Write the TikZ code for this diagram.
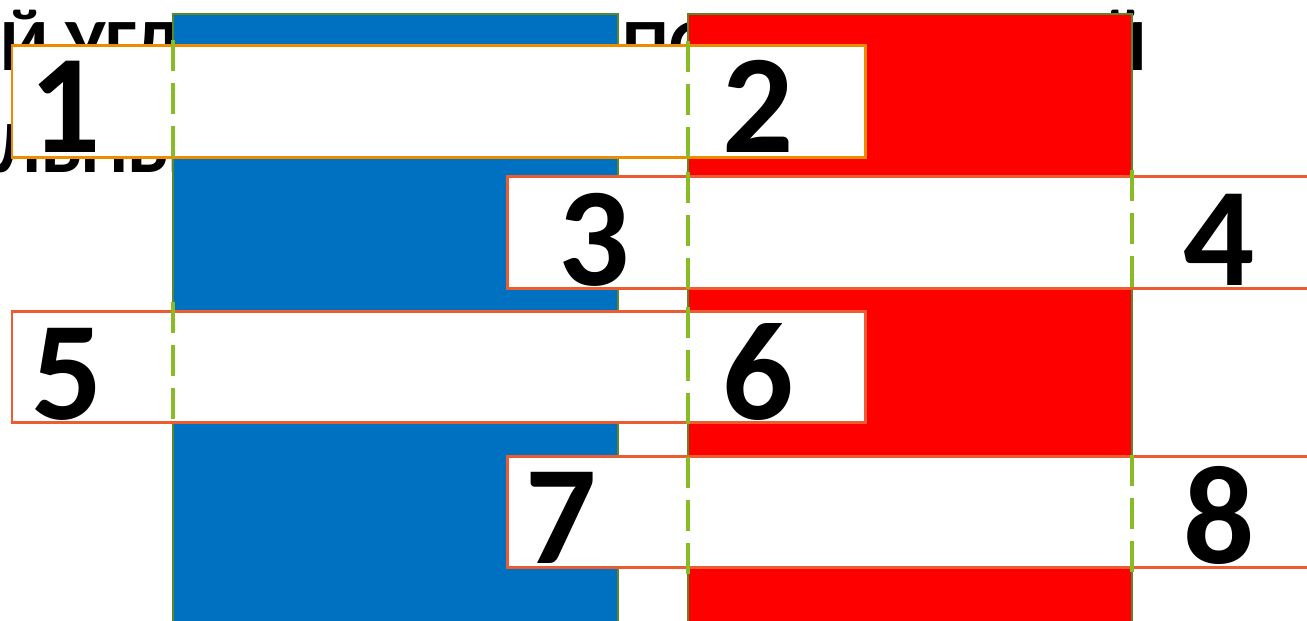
\documentclass[tikz,border=0pt]{standalone}
\usepackage{fontspec}
\setmainfont{Carlito}
\definecolor{colblue}{RGB}{0,112,192}
\definecolor{colred}{RGB}{255,0,0}
\definecolor{edgegreen}{RGB}{90,135,40}
\definecolor{cutgreen}{RGB}{135,188,36}
\definecolor{boxorange}{RGB}{238,140,0}
\definecolor{boxcoral}{RGB}{236,92,48}
\tikzset{
  column/.style={draw=edgegreen, line width=0.8pt},
  strip/.style={draw=#1, fill=white, line width=0.85pt},
  cut/.style={draw=cutgreen, line width=1.15pt, dash pattern=on 8.8pt off 3.4pt},
  digit/.style={inner sep=0pt, anchor=base, font=\fontsize{40}{40}\selectfont\bfseries},
  title/.style={inner sep=0pt, font=\fontsize{21}{21}\selectfont\bfseries}
}
\begin{document}
\begin{tikzpicture}[x=0.01cm, y=0.01cm]
	\useasboundingbox (0,0) rectangle (1307,-620);
	% title behind the columns
	\node[title, anchor=base west] (t1) at (0,-70) {Й УГЛ};
	\node[title, anchor=base west] (t2) at (622,-70) {ПО};
	\node[title, anchor=base east] (t3) at (1147,-70) {Й};
	\node[title, anchor=base west] (t4) at (-6,-172) {ЛЬНЫ};
	% columns
	\draw [column, fill=colblue] (173,-14) rectangle (618,-630);
	\draw [column, fill=colred] (688,-14) rectangle (1132,-630);
	% strips
	\draw [strip=boxorange] (12,-45) rectangle (865,-157);
	\draw [strip=boxcoral] (507,-176) rectangle (1330,-288);
	\draw [strip=boxcoral] (12,-311) rectangle (865,-422);
	\draw [strip=boxcoral] (507,-456) rectangle (1330,-567);
	% cuts
	\draw [cut] (173,-40) -- (173,-158);
	\draw [cut] (688,-41) -- (688,-163);
	\draw [cut] (688,-172) -- (688,-290);
	\draw [cut] (1132,-170) -- (1132,-288);
	\draw [cut] (173,-302) -- (173,-422);
	\draw [cut] (688,-307) -- (688,-425);
	\draw [cut] (688,-457) -- (688,-575);
	\draw [cut] (1132,-455) -- (1132,-573);
	% angle numbers
	\node[digit] (n1) at (65,-152) {1};
	\node[digit] (n2) at (758,-152) {2};
	\node[digit] (n3) at (594,-285) {3};
	\node[digit] (n4) at (1219,-285) {4};
	\node[digit] (n5) at (67,-419) {5};
	\node[digit] (n6) at (758,-419) {6};
	\node[digit] (n7) at (561,-563) {7};
	\node[digit] (n8) at (1219,-563) {8};
\end{tikzpicture}
\end{document}
